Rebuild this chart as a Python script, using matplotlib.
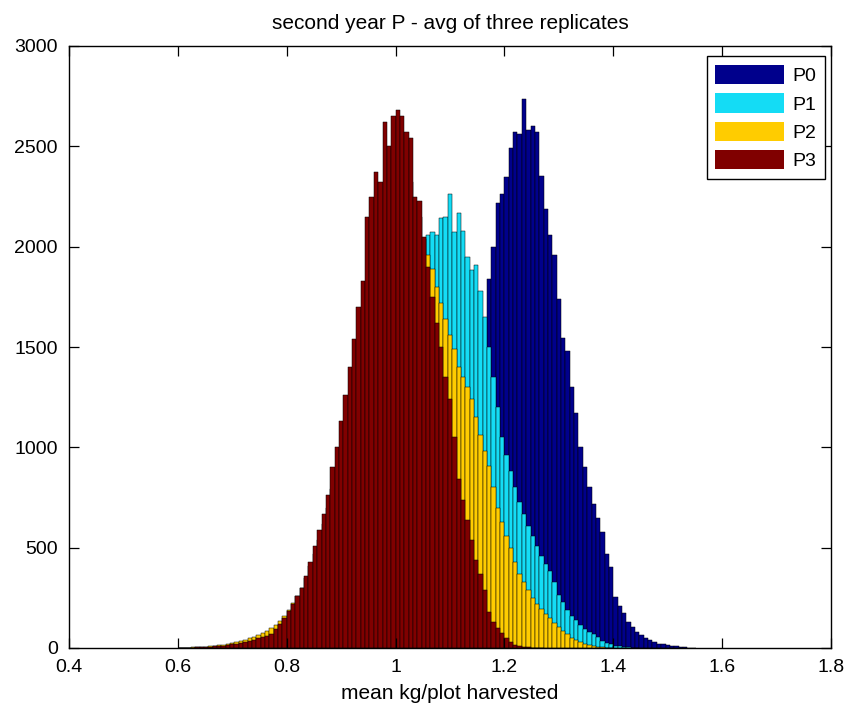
import matplotlib
matplotlib.use("Agg")
import matplotlib.pyplot as plt
import numpy as np

plt.rcParams['font.family'] = ['Liberation Sans', 'DejaVu Sans']

# ---------------- data ----------------
title = "second year P - avg of three replicates"
xlabel = "mean kg/plot harvested"
labels = ["P0", "P1", "P2", "P3"]
colors = ["#00008C", "#14DCF5", "#FFCC00", "#800000"]

bin_width = 0.008
first_center = 0.604  # centre of the first bin (all series)

p3_counts = [0, 1, 2, 2, 3, 4, 5, 6, 8, 10, 12, 15, 18, 22, 26, 30, 36, 40, 48, 55,
             62, 70, 95, 120, 150, 185, 220, 260, 300, 360, 430, 510, 590, 670, 760, 900,
             1000, 1130, 1260, 1400, 1540, 1700, 1830, 2150, 2250, 2370, 2320, 2620, 2500,
             2650, 2680, 2650, 2570, 2540, 2250, 2230, 2050, 1900, 1750, 1620, 1500, 1350,
             1240, 1050, 840, 740, 640, 540, 440, 370, 290, 180, 130, 100, 75, 50, 30, 15,
             10, 6, 4, 2, 1, 1]

p2_counts = [0, 1, 2, 3, 4, 5, 7, 9, 11, 14, 17, 21, 25, 30, 35, 42, 48, 56, 65, 75,
             86, 98, 115, 135, 160, 190, 225, 260, 300, 350, 410, 470, 540, 620, 700, 790,
             890, 990, 1100, 1210, 1330, 1450, 1570, 1690, 1800, 1910, 2010, 2100, 2180,
             2250, 2300, 2330, 2340, 2320, 2220, 2150, 2040, 1960, 1890, 1800, 1720, 1640,
             1560, 1490, 1400, 1350, 1300, 1240, 1150, 1060, 980, 905, 800, 700, 630, 560,
             500, 430, 370, 330, 290, 250, 220, 195, 170, 150, 125, 105, 85, 68, 50, 38,
             28, 20, 14, 10, 6, 4, 2, 1]

p1_counts = [0, 0, 1, 1, 1, 2, 2, 3, 4, 5, 6, 8, 10, 12, 15, 18, 22, 27, 32, 38,
             45, 53, 62, 73, 85, 100, 118, 138, 160, 185, 215, 250, 290, 335, 385, 440,
             500, 570, 640, 720, 800, 890, 980, 1070, 1170, 1270, 1370, 1470, 1570, 1660,
             1750, 1830, 1900, 1950, 1990, 2010, 2030, 2060, 2075, 2060, 2145, 2150, 2260,
             2075, 2170, 2080, 1950, 1885, 1910, 1780, 1650, 1500, 1350, 1200, 1050, 960,
             880, 800, 730, 670, 610, 560, 510, 460, 420, 385, 330, 265, 230, 190, 160,
             140, 115, 95, 80, 70, 55, 35, 25, 18, 12, 8, 5, 3, 2, 1]

p0_counts = [0, 0, 0, 0, 0, 0, 0, 0, 0, 0, 0, 0, 0, 0, 0, 0, 0, 0, 0, 0,
             0, 0, 0, 0, 0, 0, 0, 0, 0, 0, 0, 0, 0, 0, 0, 0, 0, 0, 1, 1,
             1, 2, 2, 3, 4, 5, 7, 9, 11, 14, 18, 23, 30, 38, 48, 60, 75, 95, 120, 150,
             190, 240, 300, 370, 450, 540, 650, 780, 920, 1080, 1400, 1840, 2000, 2220,
             2260, 2345, 2490, 2570, 2560, 2735, 2580, 2600, 2570, 2350, 2190, 2060, 1960,
             1740, 1545, 1480, 1300, 1170, 1000, 900, 800, 720, 650, 580, 470, 405, 255,
             210, 175, 130, 105, 80, 65, 50, 38, 30, 22, 18, 15, 10, 8, 5, 4, 2, 1]

series = [p0_counts, p1_counts, p2_counts, p3_counts]

xticks = [0.4, 0.6, 0.8, 1.0, 1.2, 1.4, 1.6, 1.8]
xticklabels = ["0.4", "0.6", "0.8", "1", "1.2", "1.4", "1.6", "1.8"]
yticks = [0, 500, 1000, 1500, 2000, 2500, 3000]

# ---------------- figure ----------------
W, H = 849, 716
fig = plt.figure(figsize=(W / 100, H / 100), dpi=100)
fig.patch.set_facecolor("white")
ax_l, ax_r, ax_t, ax_b = 69, 831, 46, 648
ax = fig.add_axes([ax_l / W, 1 - ax_b / H, (ax_r - ax_l) / W, (ax_b - ax_t) / H])

handles = []
for counts, col, lab in zip(series, colors, labels):
    centers = first_center + bin_width * np.arange(len(counts))
    h = ax.bar(centers, counts, width=bin_width, color=col, edgecolor="black",
               linewidth=0.35, label=lab)
    handles.append(h)

ax.set_xlim(0.4, 1.8)
ax.set_ylim(0, 3000)
ax.set_xticks(xticks)
ax.set_xticklabels(xticklabels)
ax.set_yticks(yticks)
ax.tick_params(direction="in", top=True, right=True, length=7, width=0.9,
               labelsize=14, pad=8)
for s in ax.spines.values():
    s.set_linewidth(1.0)

ax.set_title(title, fontsize=15, pad=12)
ax.set_xlabel(xlabel, fontsize=15, labelpad=6)

leg = ax.legend(handles=handles, labels=labels, loc="upper right",
                bbox_to_anchor=(0.992, 0.983), borderaxespad=0, fontsize=14,
                handlelength=3.5, handleheight=1.15, handletextpad=0.45,
                labelspacing=0.42, borderpad=0.45, fancybox=False, framealpha=1,
                edgecolor="black")
leg.get_frame().set_linewidth(1.0)
for p in leg.get_patches():
    p.set_edgecolor("none")

fig.savefig("out.png", dpi=100, facecolor="white")
